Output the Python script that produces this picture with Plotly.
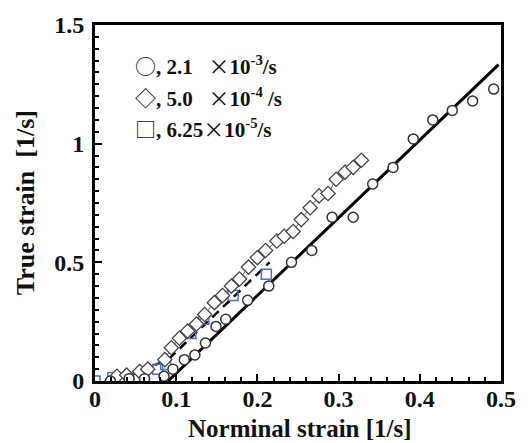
import plotly.graph_objects as go

# ---- data ----
circ_x = [0.019, 0.042, 0.061, 0.085, 0.096, 0.110, 0.123, 0.136, 0.149, 0.161,
          0.188, 0.214, 0.242, 0.267, 0.292, 0.318, 0.342, 0.367, 0.392, 0.416,
          0.440, 0.465, 0.491]
circ_y = [0.00, 0.01, 0.01, 0.02, 0.05, 0.09, 0.11, 0.16, 0.23, 0.26,
          0.34, 0.40, 0.50, 0.55, 0.69, 0.69, 0.83, 0.90, 1.02, 1.10,
          1.14, 1.18, 1.23]

dia_x = [0.027, 0.039, 0.055, 0.065, 0.086, 0.094, 0.104, 0.114, 0.125, 0.135,
         0.147, 0.157, 0.168, 0.178, 0.189, 0.200, 0.210, 0.224, 0.233, 0.244,
         0.254, 0.265, 0.276, 0.287, 0.297, 0.308, 0.318, 0.328]
dia_y = [0.02, 0.025, 0.04, 0.05, 0.09, 0.14, 0.18, 0.21, 0.24, 0.28,
         0.33, 0.36, 0.40, 0.43, 0.48, 0.52, 0.55, 0.59, 0.61, 0.63,
         0.68, 0.73, 0.78, 0.79, 0.85, 0.88, 0.90, 0.93]

sq_x = [0.000, 0.022, 0.077, 0.087, 0.118, 0.134, 0.170, 0.211]
sq_y = [0.00, 0.015, 0.05, 0.07, 0.20, 0.26, 0.36, 0.45]

fit_solid_x = [0.09, 0.497]
fit_solid_y = [0.0, 1.333]
fit_dash_x = [0.04, 0.09, 0.215]
fit_dash_y = [0.02, 0.09, 0.50]

SYM = '<span style="font-family:\'Noto Sans CJK JP\';font-weight:normal">{}</span>'
legend_rows = [
    SYM.format("○") + ", 2.1\u00a0\u00a0\u00a0" + SYM.format("×") + "10<sup>-3</sup>/s",
    SYM.format("◇") + ", 5.0\u00a0\u00a0\u00a0" + SYM.format("×") + "10<sup>-4</sup> /s",
    SYM.format("□") + ", 6.25" + SYM.format("×") + "10<sup>-5</sup>/s",
]

x_ticks = [0, 0.1, 0.2, 0.3, 0.4, 0.5]
y_ticks = [0, 0.5, 1, 1.5]

FONT = "Liberation Serif"

fig = go.Figure()
fig.add_trace(go.Scatter(x=fit_solid_x, y=fit_solid_y, mode="lines",
                         line=dict(color="black", width=3), hoverinfo="skip"))
fig.add_trace(go.Scatter(x=fit_dash_x, y=fit_dash_y, mode="lines",
                         line=dict(color="black", width=2.5, dash="9px,6px"), hoverinfo="skip"))
fig.add_trace(go.Scatter(x=sq_x, y=sq_y, mode="markers",
                         marker=dict(symbol="square-open", size=10, color="#4a72c0",
                                     line=dict(width=1.5, color="#4a72c0"))))
fig.add_trace(go.Scatter(x=dia_x, y=dia_y, mode="lines+markers",
                         line=dict(color="#555555", width=1),
                         marker=dict(symbol="diamond", size=11, color="white",
                                     line=dict(width=1.3, color="#444444"))))
fig.add_trace(go.Scatter(x=circ_x, y=circ_y, mode="markers",
                         marker=dict(symbol="circle", size=10, color="white",
                                     line=dict(width=1.5, color="#333333"))))

axis_common = dict(
    showgrid=False, zeroline=False, showline=True, linecolor="black", linewidth=3,
    mirror=True, ticks="inside", tickcolor="black", tickwidth=2, ticklen=7,
    tickfont=dict(family=FONT, size=24, color="#111111", weight="bold"),
)
fig.update_xaxes(range=[0, 0.5], tickvals=x_ticks, ticktext=[f"{v:g}" for v in x_ticks],
                 minor=dict(dtick=0.02, ticks="inside", ticklen=4, tickcolor="black", tickwidth=1.5),
                 ticklabelstandoff=-6, **axis_common)
fig.update_yaxes(range=[0, 1.5], tickvals=y_ticks, ticktext=[f"{v:g}" for v in y_ticks],
                 minor=dict(dtick=0.05, ticks="inside", ticklen=4, tickcolor="black", tickwidth=1.5),
                 ticklabelstandoff=3, **axis_common)

for i, txt in enumerate(legend_rows):
    fig.add_annotation(x=0.093, y=0.887 - i * 0.0885, xref="paper", yref="paper",
                       xanchor="left", yanchor="middle", showarrow=False, text=txt,
                       font=dict(family=FONT, size=21, color="#111111", weight="bold"))

fig.add_annotation(x=0.505, y=-0.133, xref="paper", yref="paper", xanchor="center",
                   yanchor="middle", showarrow=False, text="Norminal strain [1/s]",
                   font=dict(family=FONT, size=25, color="#111111", weight="bold"))
fig.add_annotation(x=-0.172, y=0.5, xref="paper", yref="paper", xanchor="center",
                   yanchor="middle", showarrow=False, textangle=-90,
                   text="True strain\u00a0\u00a0[1/s]",
                   font=dict(family=FONT, size=26, color="#111111", weight="bold"))

fig.update_layout(width=528, height=443, margin=dict(l=95, r=26, t=19, b=62),
                  paper_bgcolor="white", plot_bgcolor="white", showlegend=False)
fig.write_html("out.html")
